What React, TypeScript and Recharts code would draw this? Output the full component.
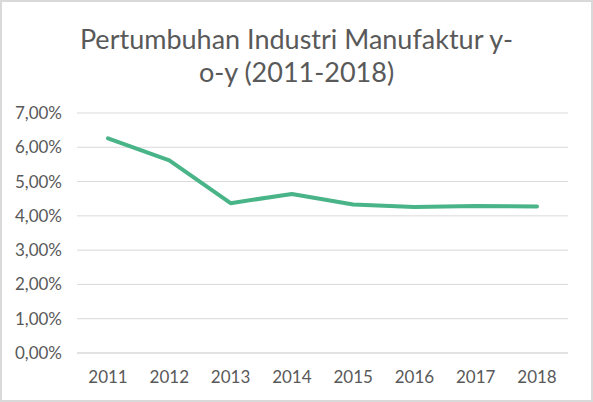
import React from "react";
import { LineChart, Line, XAxis, YAxis, CartesianGrid } from "recharts";

// Annual growth of the manufacturing industry, year over year (percent)
const years = ["2011", "2012", "2013", "2014", "2015", "2016", "2017", "2018"];
const growth = [6.26, 5.62, 4.37, 4.64, 4.33, 4.26, 4.29, 4.27];
const yTicks = [0, 1, 2, 3, 4, 5, 6, 7];
const titleLines = ["Pertumbuhan Industri Manufaktur y-", "o-y (2011-2018)"];

const data = years.map((year, i) => ({ year, growth: growth[i] }));

const W = 593;
const H = 402;
const FONT = "Lato, 'Open Sans', sans-serif";
const TEXT = "#595959";
const GRID = "#d9d9d9";
const LINE = "#48b487";

const fmtPct = (v: number) => v.toFixed(2).replace(".", ",") + "%";

export default function App() {
  return (
    <div
      style={{
        position: "fixed",
        top: 0,
        left: 0,
        width: W,
        height: H,
        background: "#fff",
        fontFamily: FONT,
      }}
    >
      <LineChart
        width={W}
        height={H}
        data={data}
        margin={{ top: 113, right: 25, bottom: 19, left: 0 }}
      >
        <CartesianGrid vertical={false} horizontal stroke={GRID} strokeWidth={1} />
        <XAxis
          dataKey="year"
          height={30}
          padding={{ left: 31, right: 31 }}
          tickLine={false}
          axisLine={{ stroke: GRID }}
          tick={{ fill: TEXT, fontSize: 17, fontFamily: FONT }}
          tickMargin={12}
          interval={0}
        />
        <YAxis
          width={77}
          domain={[0, 7]}
          ticks={yTicks}
          tickFormatter={fmtPct}
          axisLine={false}
          tickLine={false}
          tickSize={0}
          tickMargin={15}
          tick={{ fill: TEXT, fontSize: 17, fontFamily: FONT }}
          interval={0}
        />
        <Line
          type="linear"
          dataKey="growth"
          stroke={LINE}
          strokeWidth={4}
          strokeLinejoin="round"
          strokeLinecap="round"
          dot={false}
          activeDot={false}
          isAnimationActive={false}
        />
      </LineChart>
      <div
        style={{
          position: "absolute",
          top: 22,
          left: 0,
          width: W,
          textAlign: "center",
          color: TEXT,
          fontSize: 27,
          lineHeight: "33px",
        }}
      >
        {titleLines.map((t) => (
          <div key={t}>{t}</div>
        ))}
      </div>
      <div
        style={{
          position: "absolute",
          inset: 0,
          border: "2px solid #d9d9d9",
          pointerEvents: "none",
        }}
      />
    </div>
  );
}
